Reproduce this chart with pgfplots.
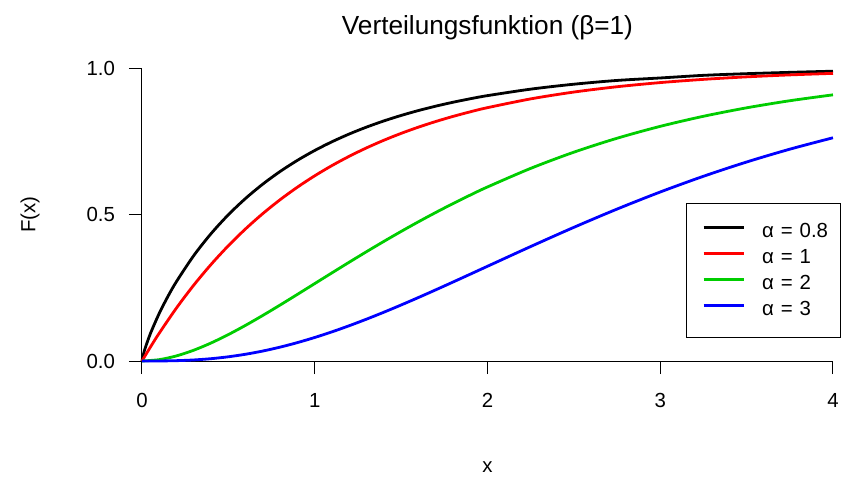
\documentclass[border=0pt]{standalone}
\usepackage{fontspec}
\setmainfont{Liberation Sans}
\usepackage{pgfplots}
\pgfplotsset{compat=1.18}
\definecolor{rgreen}{RGB}{0,205,0}
\definecolor{rred}{RGB}{255,0,0}
\definecolor{rblue}{RGB}{0,0,255}
\newcommand{\eqs}{\hspace{3.5pt}=\hspace{3.5pt}}
\begin{document}
\begin{tikzpicture}
\path[use as bounding box] (-71pt,-58pt) rectangle (350pt,180.5pt);
\begin{axis}[
  at={(0,0)}, anchor=south west,
  scale only axis, width=345.5pt, height=146.5pt,
  xmin=0, xmax=4, ymin=0, ymax=1,
  clip=false,
  axis lines*=left,
  axis line style={-, line width=0.5pt, black},
  tick align=outside, major tick length=6.5pt,
  tick style={line width=0.5pt, black},
  xtick={0,1,2,3,4}, xticklabels={0,1,2,3,4},
  ytick={0,0.5,1}, yticklabels={0.0,0.5,1.0},
  /pgf/number format/assume math mode=true,
  tick label style={font=\fontsize{10.2}{12}\selectfont},
  xticklabel style={yshift=-6pt},
  yticklabel style={xshift=-3.5pt},
  title={Verteilungsfunktion (β=1)},
  title style={font=\fontsize{13.1}{15}\selectfont, at={(rel axis cs:0.5,1)}, anchor=center, yshift=14pt},
  xlabel={x},
  xlabel style={font=\fontsize{10.2}{12}\selectfont, at={(rel axis cs:0.5,0)}, anchor=center, yshift=-53pt},
  legend cell align=left,
  legend style={at={(rel axis cs:1.011,0.539)}, anchor=north east, draw=black, line width=0.5pt,
    font=\fontsize{10.2}{12}\selectfont, inner xsep=6pt, inner ysep=7.5pt,
    nodes={inner sep=0pt, text height=9.5pt, text depth=3.5pt},
    column sep=8.5pt, row sep=0pt},
  legend image code/.code={\path (0pt,0pt); \draw[#1] (2pt,2pt) -- (22pt,2pt);},
]
\addplot[black, line width=1.4pt, smooth] coordinates {
(0,0) (0.01,0.02685) (0.02,0.04654) (0.05,0.09560) (0.1,0.16284) (0.15,0.22040)
(0.2,0.27155) (0.3,0.36006) (0.4,0.43486) (0.5,0.49919) (0.6,0.55510) (0.7,0.60402)
(0.8,0.64703) (0.9,0.68498) (1,0.71857) (1.1,0.74835) (1.2,0.77482) (1.3,0.79837)
(1.4,0.81935) (1.5,0.83806) (1.6,0.85478) (1.7,0.86971) (1.8,0.88307) (1.9,0.89501)
(2,0.90571) (2.25,0.92784) (2.5,0.94469) (2.75,0.95756) (3,0.96598) (3.25,0.97493)
(3.5,0.98064) (3.75,0.98514) (4,0.98908)};
\addlegendentry{α\eqs 0.8}
\addplot[rred, line width=1.4pt, smooth] coordinates {
(0,0) (0.05,0.04877) (0.1,0.09516) (0.2,0.18127) (0.3,0.25918) (0.4,0.32968)
(0.5,0.39347) (0.6,0.45119) (0.7,0.50341) (0.8,0.55067) (0.9,0.59343) (1,0.63212)
(1.1,0.66713) (1.2,0.69881) (1.3,0.72747) (1.4,0.75340) (1.5,0.77687) (1.6,0.79810)
(1.7,0.81732) (1.8,0.83470) (1.9,0.85043) (2,0.86466) (2.25,0.89460) (2.5,0.91792)
(2.75,0.93607) (3,0.95021) (3.25,0.96123) (3.5,0.96980) (3.75,0.97648) (4,0.98168)};
\addlegendentry{α\eqs 1}
\addplot[rgreen, line width=1.4pt, smooth] coordinates {
(0,0) (0.1,0.00468) (0.2,0.01752) (0.3,0.03694) (0.4,0.06155) (0.5,0.09020)
(0.6,0.12190) (0.7,0.15581) (0.8,0.19121) (0.9,0.22752) (1,0.26424) (1.1,0.30097)
(1.2,0.33737) (1.3,0.37318) (1.4,0.40817) (1.5,0.44218) (1.6,0.47507) (1.7,0.50675)
(1.8,0.53716) (1.9,0.56625) (2,0.59399) (2.25,0.65745) (2.5,0.71270) (2.75,0.76027)
(3,0.80085) (3.25,0.83521) (3.5,0.86411) (3.75,0.88829) (4,0.90842)};
\addlegendentry{α\eqs 2}
\addplot[rblue, line width=1.4pt, smooth] coordinates {
(0,0) (0.1,0.00016) (0.2,0.00115) (0.3,0.00360) (0.4,0.00793) (0.5,0.01439)
(0.6,0.02311) (0.7,0.03414) (0.8,0.04742) (0.9,0.06286) (1,0.08030) (1.1,0.09958)
(1.2,0.12051) (1.3,0.14289) (1.4,0.16650) (1.5,0.19115) (1.6,0.21664) (1.7,0.24278)
(1.8,0.26938) (1.9,0.29628) (2,0.32332) (2.25,0.39066) (2.5,0.45619) (2.75,0.51854)
(3,0.57681) (3.25,0.63044) (3.5,0.67916) (3.75,0.72293) (4,0.76190)};
\addlegendentry{α\eqs 3}
\node[rotate=90, anchor=center, font=\fontsize{10.2}{12}\selectfont] at ([xshift=-56pt]rel axis cs:0,0.5) {F(x)};
\end{axis}
\end{tikzpicture}
\end{document}
